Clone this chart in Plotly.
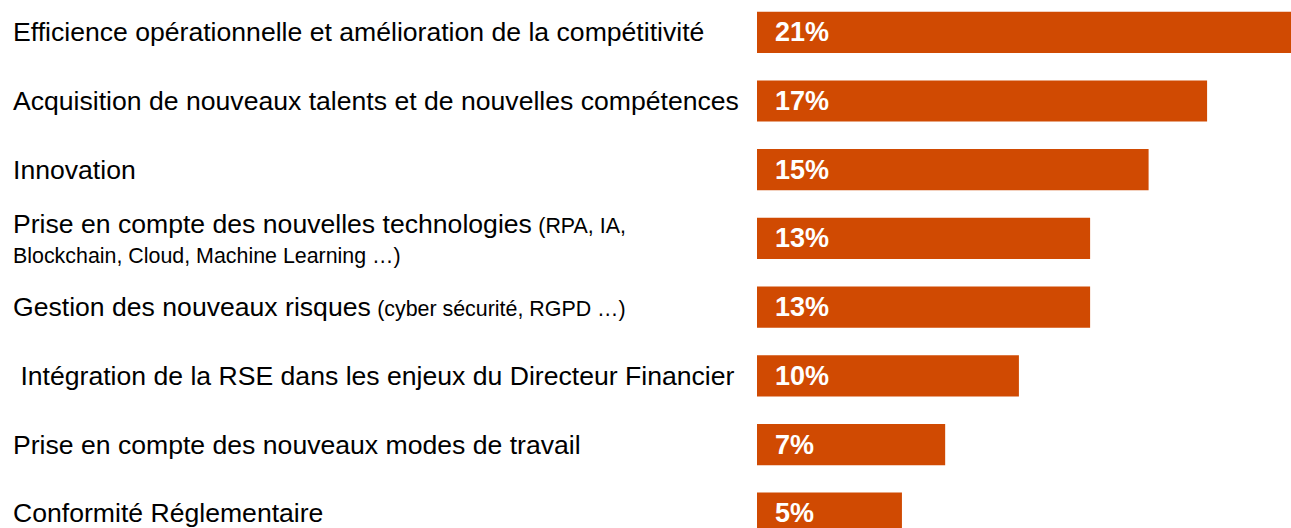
import plotly.graph_objects as go

main_labels = [
    "Efficience opérationnelle et amélioration de la compétitivité",
    "Acquisition de nouveaux talents et de nouvelles compétences",
    "Innovation",
    "Prise en compte des nouvelles technologies",
    "Gestion des nouveaux risques",
    " Intégration de la RSE dans les enjeux du Directeur Financier",
    "Prise en compte des nouveaux modes de travail",
    "Conformité Réglementaire",
]
detail_labels = [
    "",
    "",
    "",
    "(RPA, IA,<br>Blockchain, Cloud, Machine Learning …)",
    "(cyber sécurité, RGPD …)",
    "",
    "",
    "",
]
values = [21.0, 17.7, 15.4, 13.1, 13.1, 10.3, 7.4, 5.7]
value_labels = ["21%", "17%", "15%", "13%", "13%", "10%", "7%", "5%"]

ORANGE = "#D04A02"
FONT = "Liberation Sans, Arial, sans-serif"
MAIN_SIZE = 26.6
DETAIL_SIZE = 21.4
BASE_SIZE = 23

keys = [f"c{i}" for i in range(len(main_labels))]

fig = go.Figure(
    go.Bar(
        x=values,
        y=keys,
        orientation="h",
        marker=dict(color=ORANGE, line=dict(width=0)),
        width=0.6,
        hoverinfo="skip",
    )
)

annotations = []
for k, m, d in zip(keys, main_labels, detail_labels):
    txt = f'<span style="font-size:{MAIN_SIZE}px">{m}</span>'
    if d:
        parts = d.split("<br>")
        styled = [f'<span style="font-size:{DETAIL_SIZE}px">{p}</span>' for p in parts]
        txt += " " + "<br>".join(styled)
    annotations.append(
        dict(
            x=11 / 1291, xref="paper", y=k, yref="y",
            text=txt, showarrow=False, xanchor="left", yanchor="middle",
            align="left",
            font=dict(family=FONT, size=BASE_SIZE, color="#000000"),
        )
    )
for k, t in zip(keys, value_labels):
    annotations.append(
        dict(
            x=0, xref="x", y=k, yref="y",
            text=f"<b>{t}</b>", showarrow=False, xanchor="left", yanchor="middle",
            xshift=16,
            font=dict(family=FONT, size=27, color="#FFFFFF"),
        )
    )

fig.update_layout(
    width=1291,
    height=528,
    margin=dict(l=0, r=0, t=0, b=0),
    paper_bgcolor="white",
    plot_bgcolor="white",
    showlegend=False,
    annotations=annotations,
    xaxis=dict(domain=[757 / 1291, 1], range=[0, 21], visible=False, fixedrange=True),
    yaxis=dict(
        type="category",
        categoryorder="array",
        categoryarray=keys,
        range=[7.215, -0.47],
        visible=False,
        fixedrange=True,
    ),
)

fig.write_html(
    "out.html",
    config={"displayModeBar": False},
    post_script="document.body.style.margin='0';document.body.style.overflow='hidden';",
)
